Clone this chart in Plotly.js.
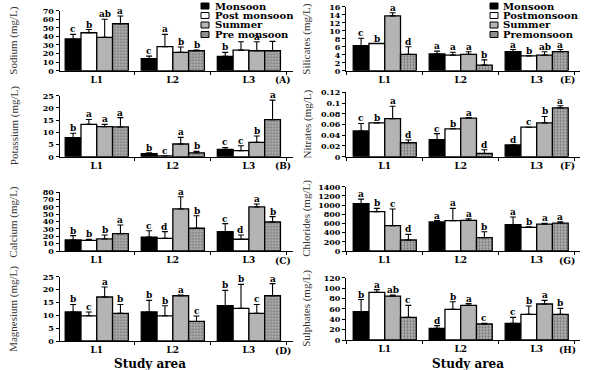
<!DOCTYPE html>
<html><head><meta charset="utf-8">
<script src="https://cdn.plot.ly/plotly-3.0.1.min.js"></script>
<style>html,body{margin:0;padding:0;background:#fff}#chart{width:591px;height:370px}</style>
</head><body><div id="chart"></div>
<script>
// ---------- DATA ----------
const locations = ['L1', 'L2', 'L3'];
const seasonsLeft = ['Monsoon', 'Post monsoon', 'Summer', 'Pre monsoon'];
const seasonsRight = ['Monsoon', 'Postmonsoon', 'Summer', 'Premonsoon'];

// rows: Monsoon, Post monsoon, Summer, Pre monsoon ; columns: L1, L2, L3
const sodiumMean = [[37, 14, 16.7], [44.3, 28, 24], [38.9, 21.4, 23.3], [54.8, 23.3, 23.3]];
const sodiumErr = [[5.4, 3, 4.7], [3.7, 14.4, 9.8], [21.1, 6.2, 10.5], [9, 0.7, 10.9]];
const sodiumLetters = [['c', 'c', 'b'], ['b', 'a', ''], ['ab', 'b', 'a'], ['a', 'b', '']];

const potassiumMean = [[7.8, 1.2, 3], [13.25, 0.3, 2.5], [12.3, 5.2, 5.9], [12.2, 1.6, 15.2]];
const potassiumErr = [[1.8, 0.4, 0.8], [2, 0, 2], [0.95, 2.7, 2.6], [3.8, 0.6, 8]];
const potassiumLetters = [['b', 'b', 'c'], ['a', 'c', 'c'], ['a', 'a', 'b'], ['a', 'b', 'a']];

const calciumMean = [[15, 19, 26.4], [14.5, 17.3, 16], [16.4, 57.3, 60], [23.6, 31, 39.5]];
const calciumErr = [[5.9, 8.7, 10.9], [1.5, 9.1, 5.8], [5.4, 16.7, 4], [11.9, 17, 7.3]];
const calciumLetters = [['b', 'c', 'c'], ['b', 'd', 'd'], ['b', 'a', 'a'], ['a', 'b', 'b']];

const magnesiumMean = [[11.3, 11.3, 13.7], [9.8, 9.8, 12.7], [17.1, 17.6, 10.75], [10.75, 7.6, 17.6]];
const magnesiumErr = [[2.9, 4.5, 6], [1.5, 3.9, 9.3], [3.9, 0.3, 3.45], [3.45, 2.1, 4.7]];
const magnesiumLetters = [['b', 'b', 'b'], ['c', 'b', 'b'], ['a', 'a', 'c'], ['b', 'c', 'a']];

const silicatesMean = [[6.25, 4.2, 4.75], [6.8, 3.9, 3.7], [13.7, 4.1, 3.9], [4.1, 1.4, 4.75]];
const silicatesErr = [[1.85, 0.7, 0.55], [0, 0.7, 0], [0.8, 0.65, 0.85], [1.9, 1.3, 0.55]];
const silicatesLetters = [['c', 'a', 'a'], ['b', 'a', 'b'], ['a', 'a', 'ab'], ['d', 'b', 'a']];

const nitratesMean = [[0.048, 0.032, 0.022], [0.063, 0.052, 0.055], [0.071, 0.072, 0.063], [0.026, 0.006, 0.091]];
const nitratesErr = [[0.014, 0.011, 0], [0, 0, 0], [0.023, 0.001, 0.012], [0.005, 0.007, 0.004]];
const nitratesLetters = [['c', 'c', 'd'], ['b', 'b', 'c'], ['a', 'a', 'b'], ['d', 'd', 'a']];

const chloridesMean = [[1030, 631, 573], [856, 660, 515], [551, 667, 587], [239, 290, 609]];
const chloridesErr = [[100, 30, 167], [72, 268, 14], [363, 36, 15], [124, 130, 29]];
const chloridesLetters = [['a', 'a', 'a'], ['b', 'a', 'b'], ['c', 'a', 'a'], ['d', 'b', 'a']];

const sulphatesMean = [[54.5, 22.5, 32], [91.8, 59, 49.4], [84.7, 66.7, 69.3], [43.6, 30.8, 49.4]];
const sulphatesErr = [[23.5, 5.1, 11.6], [5.2, 14.8, 16.1], [1.9, 3.3, 7.1], [23.1, 1.2, 11.6]];
const sulphatesLetters = [['b', 'd', 'c'], ['a', 'b', 'b'], ['ab', 'a', 'a'], ['c', 'c', 'b']];

// ---------- STYLE / LAYOUT ----------
const W = 591, H = 370;
const px = v => v / W;
const py = v => 1 - v / H;

const BOLD = {family: 'DejaVu Serif', size: 10, color: '#000', weight: 'bold'};
const TICKY = {family: 'DejaVu Serif', size: 8, color: '#000', weight: 'bold'};
const TICKX = {family: 'DejaVu Serif', size: 9, color: '#000', weight: 'bold'};
const LETTER = {family: 'DejaVu Serif', size: 9, color: '#000', weight: 'bold'};
const seasonStyle = [
  {color: '#000000'},
  {color: '#ffffff'},
  {color: '#b4b4b4'},
  {color: '#a2a2a2', pattern: {shape: '.', size: 3, solidity: 0.35, fgcolor: '#6e6e6e', bgcolor: '#b0b0b0'}}
];
const BARGAP = 0.17;

const panels = [
  {tag: '(A)', title: 'Sodium (mg/L)', mean: sodiumMean, err: sodiumErr, letters: sodiumLetters, ymax: 70, dtick: 10, col: 0, top: 10.7, bot: 70.7},
  {tag: '(B)', title: 'Potassium (mg/L)', mean: potassiumMean, err: potassiumErr, letters: potassiumLetters, ymax: 25, dtick: 5, col: 0, top: 95.7, bot: 156.7},
  {tag: '(C)', title: 'Calcium (mg/L)', mean: calciumMean, err: calciumErr, letters: calciumLetters, ymax: 80, dtick: 10, col: 0, top: 192.3, bot: 251},
  {tag: '(D)', title: 'Magnesium (mg/L)', mean: magnesiumMean, err: magnesiumErr, letters: magnesiumLetters, ymax: 25, dtick: 5, col: 0, top: 276.7, bot: 341},
  {tag: '(E)', title: 'Silicates (mg/L)', mean: silicatesMean, err: silicatesErr, letters: silicatesLetters, ymax: 16, dtick: 2, col: 1, top: 6.7, bot: 70.7},
  {tag: '(F)', title: 'Nitrates (mg/L)', mean: nitratesMean, err: nitratesErr, letters: nitratesLetters, ymax: 0.12, dtick: 0.02, col: 1, top: 92.3, bot: 156.7},
  {tag: '(G)', title: 'Chlorides (mg/L)', mean: chloridesMean, err: chloridesErr, letters: chloridesLetters, ymax: 1400, dtick: 200, col: 1, top: 186.7, bot: 251},
  {tag: '(H)', title: 'Sulphates (mg/L)', mean: sulphatesMean, err: sulphatesErr, letters: sulphatesLetters, ymax: 120, dtick: 20, col: 1, top: 277.7, bot: 340}
];
const colGeom = [
  {left: 59.5, right: 293, range: [-0.49, 2.58], titleX: 14, tagX: 283},
  {left: 346, right: 580, range: [-0.51, 2.57], titleX: 307, tagX: 567}
];

const traces = [];
const annotations = [];
const shapes = [];
const layout = {
  width: W, height: H,
  margin: {l: 0, r: 0, t: 0, b: 0},
  paper_bgcolor: '#fff', plot_bgcolor: 'rgba(0,0,0,0)',
  barmode: 'group', bargap: BARGAP, bargroupgap: 0,
  showlegend: false,
  font: {family: 'DejaVu Serif', color: '#000'}
};

panels.forEach((p, k) => {
  const n = k + 1;
  const xa = 'x' + n, ya = 'y' + n;
  const g = colGeom[p.col];
  const names = p.col === 0 ? seasonsLeft : seasonsRight;
  for (let s = 0; s < 4; s++) {
    traces.push({
      type: 'bar', name: names[s], x: locations, y: p.mean[s],
      xaxis: xa, yaxis: ya,
      marker: Object.assign({line: {color: '#000', width: 1.3}}, seasonStyle[s]),
      error_y: {type: 'data', array: p.err[s], arrayminus: p.err[s].map(() => 0), symmetric: false,
                color: '#000', thickness: 1.1, width: 3},
      hoverinfo: 'skip'
    });
    const bw = (1 - BARGAP) / 4;
    locations.forEach((loc, i) => {
      const L = p.letters[s][i];
      if (!L) return;
      annotations.push({
        xref: xa, yref: ya, x: i + (s - 1.5) * bw, y: p.mean[s][i] + p.err[s][i],
        text: L, showarrow: false, yanchor: 'bottom', xanchor: 'center',
        font: LETTER, yshift: -2
      });
    });
  }
  layout['xaxis' + n] = {
    domain: [px(g.left), px(g.right)], range: g.range, anchor: ya,
    type: 'category', showline: true, linecolor: '#000', linewidth: 1,
    ticks: 'outside', ticklen: 3, tickcolor: '#000', tickson: 'boundaries',
    tickfont: TICKX, showgrid: false, zeroline: false, fixedrange: true
  };
  layout['yaxis' + n] = {
    domain: [py(p.bot), py(p.top)], range: [0, p.ymax], dtick: p.dtick, anchor: xa,
    showline: true, linecolor: '#000', linewidth: 1,
    ticks: 'outside', ticklen: 3, tickcolor: '#000',
    tickfont: TICKY, showgrid: false, zeroline: false, fixedrange: true
  };
  // y title
  annotations.push({
    xref: 'paper', yref: 'paper', x: px(g.titleX), y: py((p.top + p.bot) / 2),
    text: p.title, textangle: -90, showarrow: false, xanchor: 'center', yanchor: 'middle',
    font: {family: 'Liberation Serif', size: 11, color: '#333'}
  });
  // panel tag
  annotations.push({
    xref: 'paper', yref: 'paper', x: px(g.tagX), y: py(p.bot + 9.5),
    text: p.tag, showarrow: false, xanchor: 'center', yanchor: 'middle', font: TICKX
  });
});

// x-axis titles
[150, 468].forEach(cx => annotations.push({
  xref: 'paper', yref: 'paper', x: px(cx), y: py(364), text: 'Study area', showarrow: false,
  xanchor: 'center', yanchor: 'middle', font: {family: 'DejaVu Serif', size: 12, weight: 'bold', color: '#000'}
}));

// legends
[{names: seasonsLeft, sx: 201, tx: 213}, {names: seasonsRight, sx: 490, tx: 501}].forEach(lg => {
  lg.names.forEach((nm, s) => {
    const cy = 6 + s * 9.5;
    const st = seasonStyle[s];
    shapes.push({type: 'rect', xref: 'paper', yref: 'paper',
      x0: px(lg.sx), x1: px(lg.sx + 8), y0: py(cy + 3), y1: py(cy - 3),
      fillcolor: s === 3 ? '#8e8e8e' : st.color, line: {color: '#000', width: 1}});
    annotations.push({xref: 'paper', yref: 'paper', x: px(lg.tx), y: py(cy), text: nm,
      showarrow: false, xanchor: 'left', yanchor: 'middle', font: BOLD});
  });
});

layout.annotations = annotations;
layout.shapes = shapes;
Plotly.newPlot('chart', traces, layout, {displayModeBar: false, staticPlot: true});
</script>
</body></html>
